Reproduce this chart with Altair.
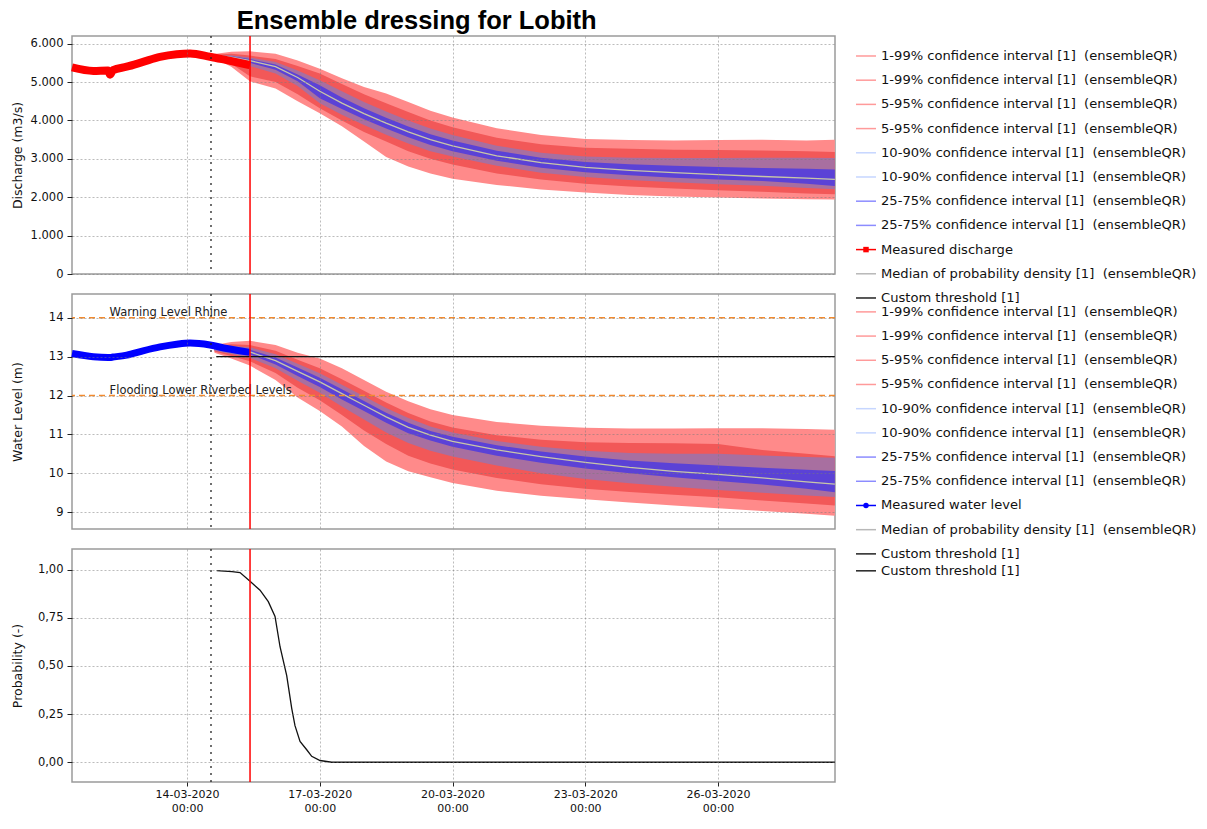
import altair as alt
import pandas as pd

# ---------------- data ----------------
BASE = pd.Timestamp("2020-03-14 00:00")  # day offsets below are relative to this

# forecast time steps (days after 14-03-2020 00:00)
fc_days = [0.62, 1.0, 1.42, 2.0, 2.5, 3.0, 3.5, 4.0, 4.5, 5.0, 5.5, 6.0,
           7.0, 8.0, 9.0, 10.0, 11.0, 12.0, 13.0, 14.0, 14.64]

# discharge (m3/s)
q_med = [5700, 5650, 5560, 5400, 5120, 4760, 4450, 4180, 3930, 3700, 3500, 3340,
         3080, 2900, 2780, 2700, 2640, 2590, 2540, 2500, 2465]
q_p99 = [5730, 5790, 5800, 5740, 5560, 5350, 5100, 4870, 4700, 4480, 4250, 4080,
         3800, 3620, 3520, 3490, 3480, 3490, 3500, 3480, 3500]
q_p01 = [5620, 5400, 5020, 4830, 4500, 4190, 3850, 3450, 3050, 2800, 2620, 2480,
         2320, 2200, 2120, 2060, 2020, 1990, 1970, 1950, 1940]
q_p95 = [5710, 5740, 5690, 5600, 5420, 5220, 4950, 4680, 4450, 4220, 4000, 3820,
         3550, 3380, 3290, 3260, 3240, 3230, 3220, 3200, 3180]
q_p05 = [5650, 5480, 5150, 5000, 4680, 4320, 4000, 3700, 3450, 3200, 3000, 2850,
         2620, 2460, 2350, 2280, 2230, 2180, 2140, 2100, 2075]
q_p90 = [5700, 5700, 5640, 5520, 5300, 5050, 4760, 4480, 4230, 4000, 3790, 3620,
         3340, 3160, 3060, 3030, 3020, 3020, 3030, 3030, 3025]
q_p10 = [5670, 5560, 5420, 5220, 4900, 4450, 4150, 3880, 3630, 3400, 3200, 3060,
         2820, 2640, 2530, 2450, 2390, 2340, 2300, 2240, 2205]
q_p75 = [5695, 5670, 5600, 5460, 5200, 4920, 4600, 4320, 4070, 3840, 3640, 3480,
         3210, 3030, 2920, 2860, 2820, 2790, 2760, 2740, 2720]
q_p25 = [5680, 5610, 5500, 5320, 5020, 4580, 4300, 4030, 3790, 3560, 3360, 3200,
         2950, 2770, 2650, 2570, 2510, 2460, 2420, 2350, 2290]

# water level (m)
h_med = [13.20, 13.18, 13.12, 12.90, 12.62, 12.35, 12.05, 11.75, 11.45, 11.18, 10.98, 10.82,
         10.60, 10.43, 10.28, 10.15, 10.05, 9.97, 9.88, 9.78, 9.72]
h_p99 = [13.30, 13.38, 13.41, 13.30, 13.10, 12.95, 12.70, 12.40, 12.10, 11.85, 11.65, 11.50,
         11.32, 11.22, 11.17, 11.15, 11.15, 11.16, 11.16, 11.14, 11.12]
h_p01 = [13.10, 12.95, 12.77, 12.40, 11.95, 11.60, 11.20, 10.70, 10.30, 10.05, 9.90, 9.75,
         9.55, 9.42, 9.33, 9.25, 9.17, 9.10, 9.03, 8.96, 8.91]
h_p95 = [13.27, 13.32, 13.30, 13.15, 12.92, 12.70, 12.42, 12.12, 11.82, 11.55, 11.33, 11.18,
         10.98, 10.86, 10.80, 10.78, 10.77, 10.75, 10.60, 10.50, 10.44]
h_p05 = [13.13, 13.02, 12.88, 12.58, 12.20, 11.88, 11.50, 11.10, 10.75, 10.45, 10.25, 10.10,
         9.88, 9.72, 9.60, 9.52, 9.45, 9.38, 9.30, 9.22, 9.17]
h_p90 = [13.25, 13.28, 13.24, 13.06, 12.82, 12.57, 12.28, 11.98, 11.68, 11.42, 11.20, 11.05,
         10.83, 10.68, 10.58, 10.52, 10.50, 10.50, 10.46, 10.42, 10.40]
h_p10 = [13.15, 13.07, 12.97, 12.70, 12.38, 12.07, 11.72, 11.38, 11.05, 10.78, 10.58, 10.43,
         10.20, 10.00, 9.85, 9.74, 9.65, 9.57, 9.50, 9.43, 9.39]
h_p75 = [13.23, 13.23, 13.18, 12.98, 12.72, 12.46, 12.16, 11.86, 11.56, 11.30, 11.09, 10.94,
         10.72, 10.56, 10.43, 10.33, 10.26, 10.20, 10.14, 10.09, 10.06]
h_p25 = [13.18, 13.13, 13.06, 12.80, 12.50, 12.22, 11.90, 11.60, 11.30, 11.03, 10.84, 10.68,
         10.45, 10.27, 10.12, 10.00, 9.90, 9.80, 9.71, 9.60, 9.51]

# measured series (days after 14-03-2020 00:00)
obs_days = [-2.60, -2.117, -1.785, -1.74, -1.672, -1.363, -0.994, -0.61, -0.233, 0.068, 0.52, 0.897, 1.424]
obs_q = [5380, 5290, 5300, 5190, 5310, 5400, 5525, 5655, 5725, 5745, 5660, 5570, 5440]
obs_h = [13.08, 13.00, 12.98, 12.98, 12.99, 13.04, 13.15, 13.25, 13.32, 13.35, 13.30, 13.21, 13.11]

# probability of exceeding the custom threshold
prob_days = [0.671, 1.017, 1.198, 1.424, 1.65, 1.837, 1.989, 2.102, 2.253, 2.366, 2.44,
             2.554, 2.705, 2.818, 3.006, 3.27, 14.64]
prob_val = [0.995, 0.99, 0.985, 0.94, 0.894, 0.834, 0.757, 0.60, 0.45, 0.28, 0.19,
            0.108, 0.065, 0.031, 0.009, 0.0, 0.0]

threshold_value = 13.0
threshold_days = [0.66, 14.64]
ref_levels = [14.0, 12.0]
ref_labels = ["Warning Level Rhine", "Flooding Lower Riverbed Levels"]
ref_label_day = -1.75
forecast_time_day = 0.542   # dotted line (T0)
now_day = 1.424             # red line

SP = " \u00a0"  # double space as shown in the legend
legend_g1 = [f"1-99% confidence interval [1]{SP}(ensembleQR)"] * 2 + \
            [f"5-95% confidence interval [1]{SP}(ensembleQR)"] * 2 + \
            [f"10-90% confidence interval [1]{SP}(ensembleQR)"] * 2 + \
            [f"25-75% confidence interval [1]{SP}(ensembleQR)"] * 2 + \
            ["Measured discharge", f"Median of probability density [1]{SP}(ensembleQR)",
             "Custom threshold [1]"]
legend_g2 = [f"1-99% confidence interval [1]{SP}(ensembleQR)"] * 2 + \
            [f"5-95% confidence interval [1]{SP}(ensembleQR)"] * 2 + \
            [f"10-90% confidence interval [1]{SP}(ensembleQR)"] * 2 + \
            [f"25-75% confidence interval [1]{SP}(ensembleQR)"] * 2 + \
            ["Measured water level", f"Median of probability density [1]{SP}(ensembleQR)",
             "Custom threshold [1]"]
legend_g3 = ["Custom threshold [1]"]

# ---------------- styling ----------------
C1, C5, C10, C25, CMED = "#FF8A8A", "#F25858", "#A86FA0", "#5B42D6", "#C8C6A8"
GRID = "#7a7a7a"
FONT = "DejaVu Sans"
H1, H2, H3, VSP = 238, 235, 233, 20


def ts(days):
    return [(BASE + pd.Timedelta(days=float(d))).strftime("%Y-%m-%dT%H:%M:%SZ") for d in days]


fc = pd.DataFrame({"t": ts(fc_days),
                   "q_med": q_med, "q_p01": q_p01, "q_p99": q_p99, "q_p05": q_p05, "q_p95": q_p95,
                   "q_p10": q_p10, "q_p90": q_p90, "q_p25": q_p25, "q_p75": q_p75,
                   "h_med": h_med, "h_p01": h_p01, "h_p99": h_p99, "h_p05": h_p05, "h_p95": h_p95,
                   "h_p10": h_p10, "h_p90": h_p90, "h_p25": h_p25, "h_p75": h_p75})
obs = pd.DataFrame({"t": ts(obs_days), "q": obs_q, "h": obs_h})
prob = pd.DataFrame({"t": ts(prob_days), "p": prob_val})
thr = pd.DataFrame({"t": ts(threshold_days), "v": [threshold_value] * 2})
refl = pd.DataFrame({"v": ref_levels, "label": ref_labels, "t": ts([ref_label_day] * 2)})
t0 = pd.DataFrame({"t": ts([forecast_time_day])})
now = pd.DataFrame({"t": ts([now_day])})

xdom = [alt.DateTime(year=2020, month=3, date=11, hours=9, minutes=37, utc=True),
        alt.DateTime(year=2020, month=3, date=28, hours=15, minutes=27, utc=True)]
xticks = [alt.DateTime(year=2020, month=3, date=d, utc=True) for d in (14, 17, 20, 23, 26)]
xscale = alt.Scale(type="utc", domain=xdom, nice=False)

ax_top = alt.Axis(values=xticks, labels=False, ticks=False, domain=False, title=None,
                  grid=True, gridDash=[2, 2], gridColor=GRID, gridOpacity=0.5, zindex=1)
ax_bot = alt.Axis(values=xticks, domain=False, title=None, grid=True, gridDash=[2, 2],
                  gridColor=GRID, gridOpacity=0.5, zindex=1, ticks=True, tickSize=4,
                  tickColor="#222", labelFont=FONT, labelFontSize=11, labelColor="#111",
                  labelPadding=2, labelLineHeight=14,
                  labelExpr="[utcFormat(datum.value, '%d-%m-%Y'), utcFormat(datum.value, '%H:%M')]")


def yaxis(title, values, expr):
    return alt.Axis(title=title, values=values, labelExpr=expr, domain=False, grid=True,
                    gridDash=[2, 2], gridColor=GRID, gridOpacity=0.5, zindex=1,
                    tickSize=5, tickColor="#222", labelPadding=4, labelFont=FONT,
                    labelFontSize=11.5, labelColor="#111", titleFont=FONT, titleFontSize=12.5,
                    titleFontWeight="normal", titleColor="#111", titlePadding=5.5,
                    minExtent=42, maxExtent=42)


def panel(yfield_prefix, yscale, axis, xaxis, extra_layers, height):
    X = alt.X("t:T", scale=xscale, axis=xaxis)
    layers = []
    if yfield_prefix:
        for lo, hi, col in (("p01", "p99", C1), ("p05", "p95", C5), ("p10", "p90", C10), ("p25", "p75", C25)):
            layers.append(alt.Chart(fc).mark_area(color=col, opacity=1, clip=True).encode(
                x=X,
                y=alt.Y(f"{yfield_prefix}_{lo}:Q", scale=yscale, axis=axis),
                y2=f"{yfield_prefix}_{hi}:Q"))
        layers.append(alt.Chart(fc).mark_line(color=CMED, strokeWidth=1.3, clip=True).encode(
            x=X, y=alt.Y(f"{yfield_prefix}_med:Q", scale=yscale, axis=axis)))
    layers += extra_layers(X)
    layers.append(alt.Chart(t0).mark_rule(color="#222", strokeDash=[2, 5], strokeWidth=1.3).encode(x=X))
    layers.append(alt.Chart(now).mark_rule(color="#FF0000", strokeWidth=1.5).encode(x=X))
    return alt.layer(*layers).properties(width=763, height=height)


# --- discharge panel
q_scale = alt.Scale(domain=[0, 6200], nice=False, zero=False)
q_axis = yaxis("Discharge (m3/s)", [0, 1000, 2000, 3000, 4000, 5000, 6000],
               "replace(format(datum.value, ',.0f'), ',', '.')")


def q_extra(X):
    return [alt.Chart(obs).mark_line(color="#FF0000", strokeWidth=8, interpolate="monotone").encode(
        x=X, y=alt.Y("q:Q", scale=q_scale, axis=q_axis))]


p1 = panel("q", q_scale, q_axis, ax_top, q_extra, H1)

# --- water level panel
h_scale = alt.Scale(domain=[8.566, 14.612], nice=False, zero=False)
h_axis = yaxis("Water Level (m)", [9, 10, 11, 12, 13, 14], "format(datum.value, 'd')")


def h_extra(X):
    return [
        alt.Chart(thr).mark_line(color="#111", strokeWidth=1.3).encode(
            x=X, y=alt.Y("v:Q", scale=h_scale, axis=h_axis)),
        alt.Chart(obs).mark_line(color="#0000FF", strokeWidth=7, interpolate="monotone").encode(
            x=X, y=alt.Y("h:Q", scale=h_scale, axis=h_axis)),
        alt.Chart(refl).mark_rule(color="#F28A2E", strokeDash=[6, 4], strokeWidth=1.5).encode(
            y=alt.Y("v:Q", scale=h_scale, axis=h_axis)),
        alt.Chart(refl).mark_text(align="left", baseline="alphabetic", dy=-2, font=FONT,
                                  fontSize=11.5, color="#222").encode(
            x=X, y=alt.Y("v:Q", scale=h_scale, axis=h_axis), text="label:N"),
    ]


p2 = panel("h", h_scale, h_axis, ax_top, h_extra, H2)

# --- probability panel
p_scale = alt.Scale(domain=[-0.1026, 1.1077], nice=False, zero=False)
p_axis = yaxis("Probability (-)", [0, 0.25, 0.5, 0.75, 1.0],
               "replace(format(datum.value, '.2f'), '.', ',')")


def p_extra(X):
    return [alt.Chart(prob).mark_line(color="#111", strokeWidth=1.3).encode(
        x=X, y=alt.Y("p:Q", scale=p_scale, axis=p_axis))]


p3 = panel(None, p_scale, p_axis, ax_bot, p_extra, H3)

# ---------------- legend ----------------
SLOT_PX = 24.2
LEG_H = H1 + H2 + H3 + 2 * VSP
G1, G2, G3 = 0.826, 11.4, 22.1


def leg_style(label):
    if label.startswith("1-99") or label.startswith("5-95"):
        return "#FF9A9A", ""
    if label.startswith("10-90"):
        return "#C6D6FF", ""
    if label.startswith("25-75"):
        return "#8C8CFF", ""
    if label == "Measured discharge":
        return "#FF0000", "square"
    if label == "Measured water level":
        return "#0000FF", "circle"
    if label.startswith("Median"):
        return "#B8B8B8", ""
    return "#222222", ""


rows = []
for grp, start in ((legend_g1, G1), (legend_g2, G2), (legend_g3, G3)):
    for i, lab in enumerate(grp):
        col, mk = leg_style(lab)
        rows.append({"label": lab, "slot": start + i, "color": col, "marker": mk})
leg = pd.DataFrame(rows)
lscale = alt.Scale(domain=[0, LEG_H / SLOT_PX], reverse=True, nice=False, zero=False)
LY = alt.Y("slot:Q", scale=lscale, axis=None)

leg_rules = alt.Chart(leg).mark_rule(strokeWidth=1.5).encode(
    x=alt.value(0), x2=alt.value(20), y=LY, color=alt.Color("color:N", scale=None))
leg_marks = alt.Chart(leg[leg["marker"] != ""]).mark_point(filled=True, size=30, opacity=1).encode(
    x=alt.value(10), y=LY, shape=alt.Shape("marker:N", scale=None), color=alt.Color("color:N", scale=None))
leg_text = alt.Chart(leg).mark_text(align="left", baseline="middle", font=FONT, fontSize=13.1,
                                    color="#111").encode(x=alt.value(25), y=LY, text="label:N")
legend = alt.layer(leg_rules, leg_marks, leg_text).properties(
    width=330, height=LEG_H, view=alt.ViewBackground(stroke="transparent"))

left = alt.vconcat(p1, p2, p3, spacing=VSP, bounds="flush")

chart = alt.hconcat(left, legend, spacing=15).properties(
    title=alt.TitleParams("Ensemble dressing for Lobith", font="Liberation Sans",
                          fontSize=25.5, fontWeight="bold", color="#000",
                          anchor="start", frame="bounds", dx=226, offset=0),
    padding={"left": 2, "top": 1, "right": 0, "bottom": 0}, background="white"
).configure_view(stroke="#9a9a9a", strokeWidth=1.5)

chart.save("out.html", embed_options={"renderer": "svg", "actions": False})
